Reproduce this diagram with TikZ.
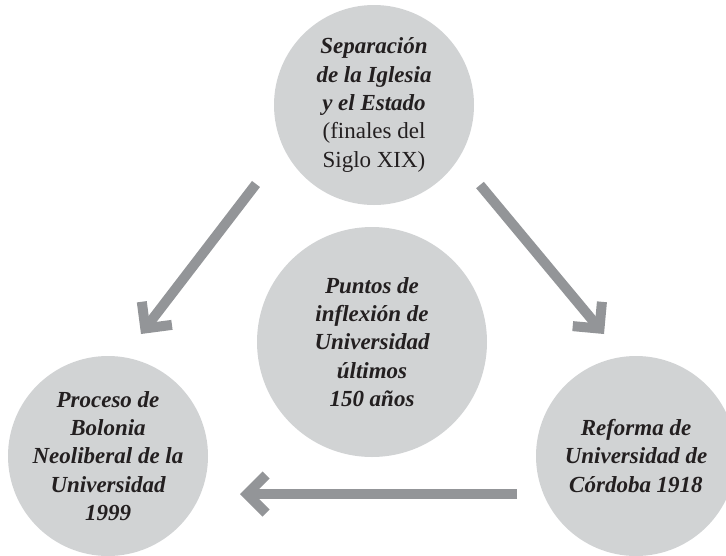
\documentclass[tikz,border=0pt]{standalone}
\usepackage{fontspec}
\setmainfont{Liberation Serif}
\usetikzlibrary{arrows.meta}
\definecolor{circfill}{HTML}{D1D3D4}
\definecolor{arrowgray}{HTML}{939598}
\definecolor{textdark}{HTML}{231F20}
\tikzset{
  bubble/.style={circle, fill=circfill, inner sep=-12pt, minimum size=#1, align=center,
    text=textdark, font={\fontsize{23}{28.3}\selectfont\bfseries\itshape}},
  bigarrow/.style={draw=arrowgray, line width=10pt,
    -{Straight Barb[sharp, length=19pt, width=38pt]}}
}
\begin{document}
\begin{tikzpicture}[x=1pt,y=-1pt]
\useasboundingbox (0,0) rectangle (726,555);
\node[bubble=200pt] (top) at (374,105) {Separación\\de la Iglesia\\y el Estado\\{\mdseries\upshape (finales del}\\{\mdseries\upshape Siglo XIX)}};
\node[bubble=230pt] (mid) at (372,342) {Puntos de\\inflexión de\\Universidad\\últimos\\150 años};
\node[bubble=200pt] (bl) at (108,456) {Proceso de\\Bolonia\\Neoliberal de la\\Universidad\\1999};
\node[bubble=200pt] (br) at (636,456) {Reforma de\\Universidad de\\Córdoba 1918};
\coordinate (a1s) at (256,184);
\coordinate (a1e) at (141,334);
\coordinate (a2s) at (480,185);
\coordinate (a2e) at (604,334);
\coordinate (a3s) at (517,494);
\coordinate (a3e) at (240,494);
\draw[bigarrow] (a1s) -- (a1e);
\draw[bigarrow] (a2s) -- (a2e);
\draw[bigarrow] (a3s) -- (a3e);
\end{tikzpicture}
\end{document}
